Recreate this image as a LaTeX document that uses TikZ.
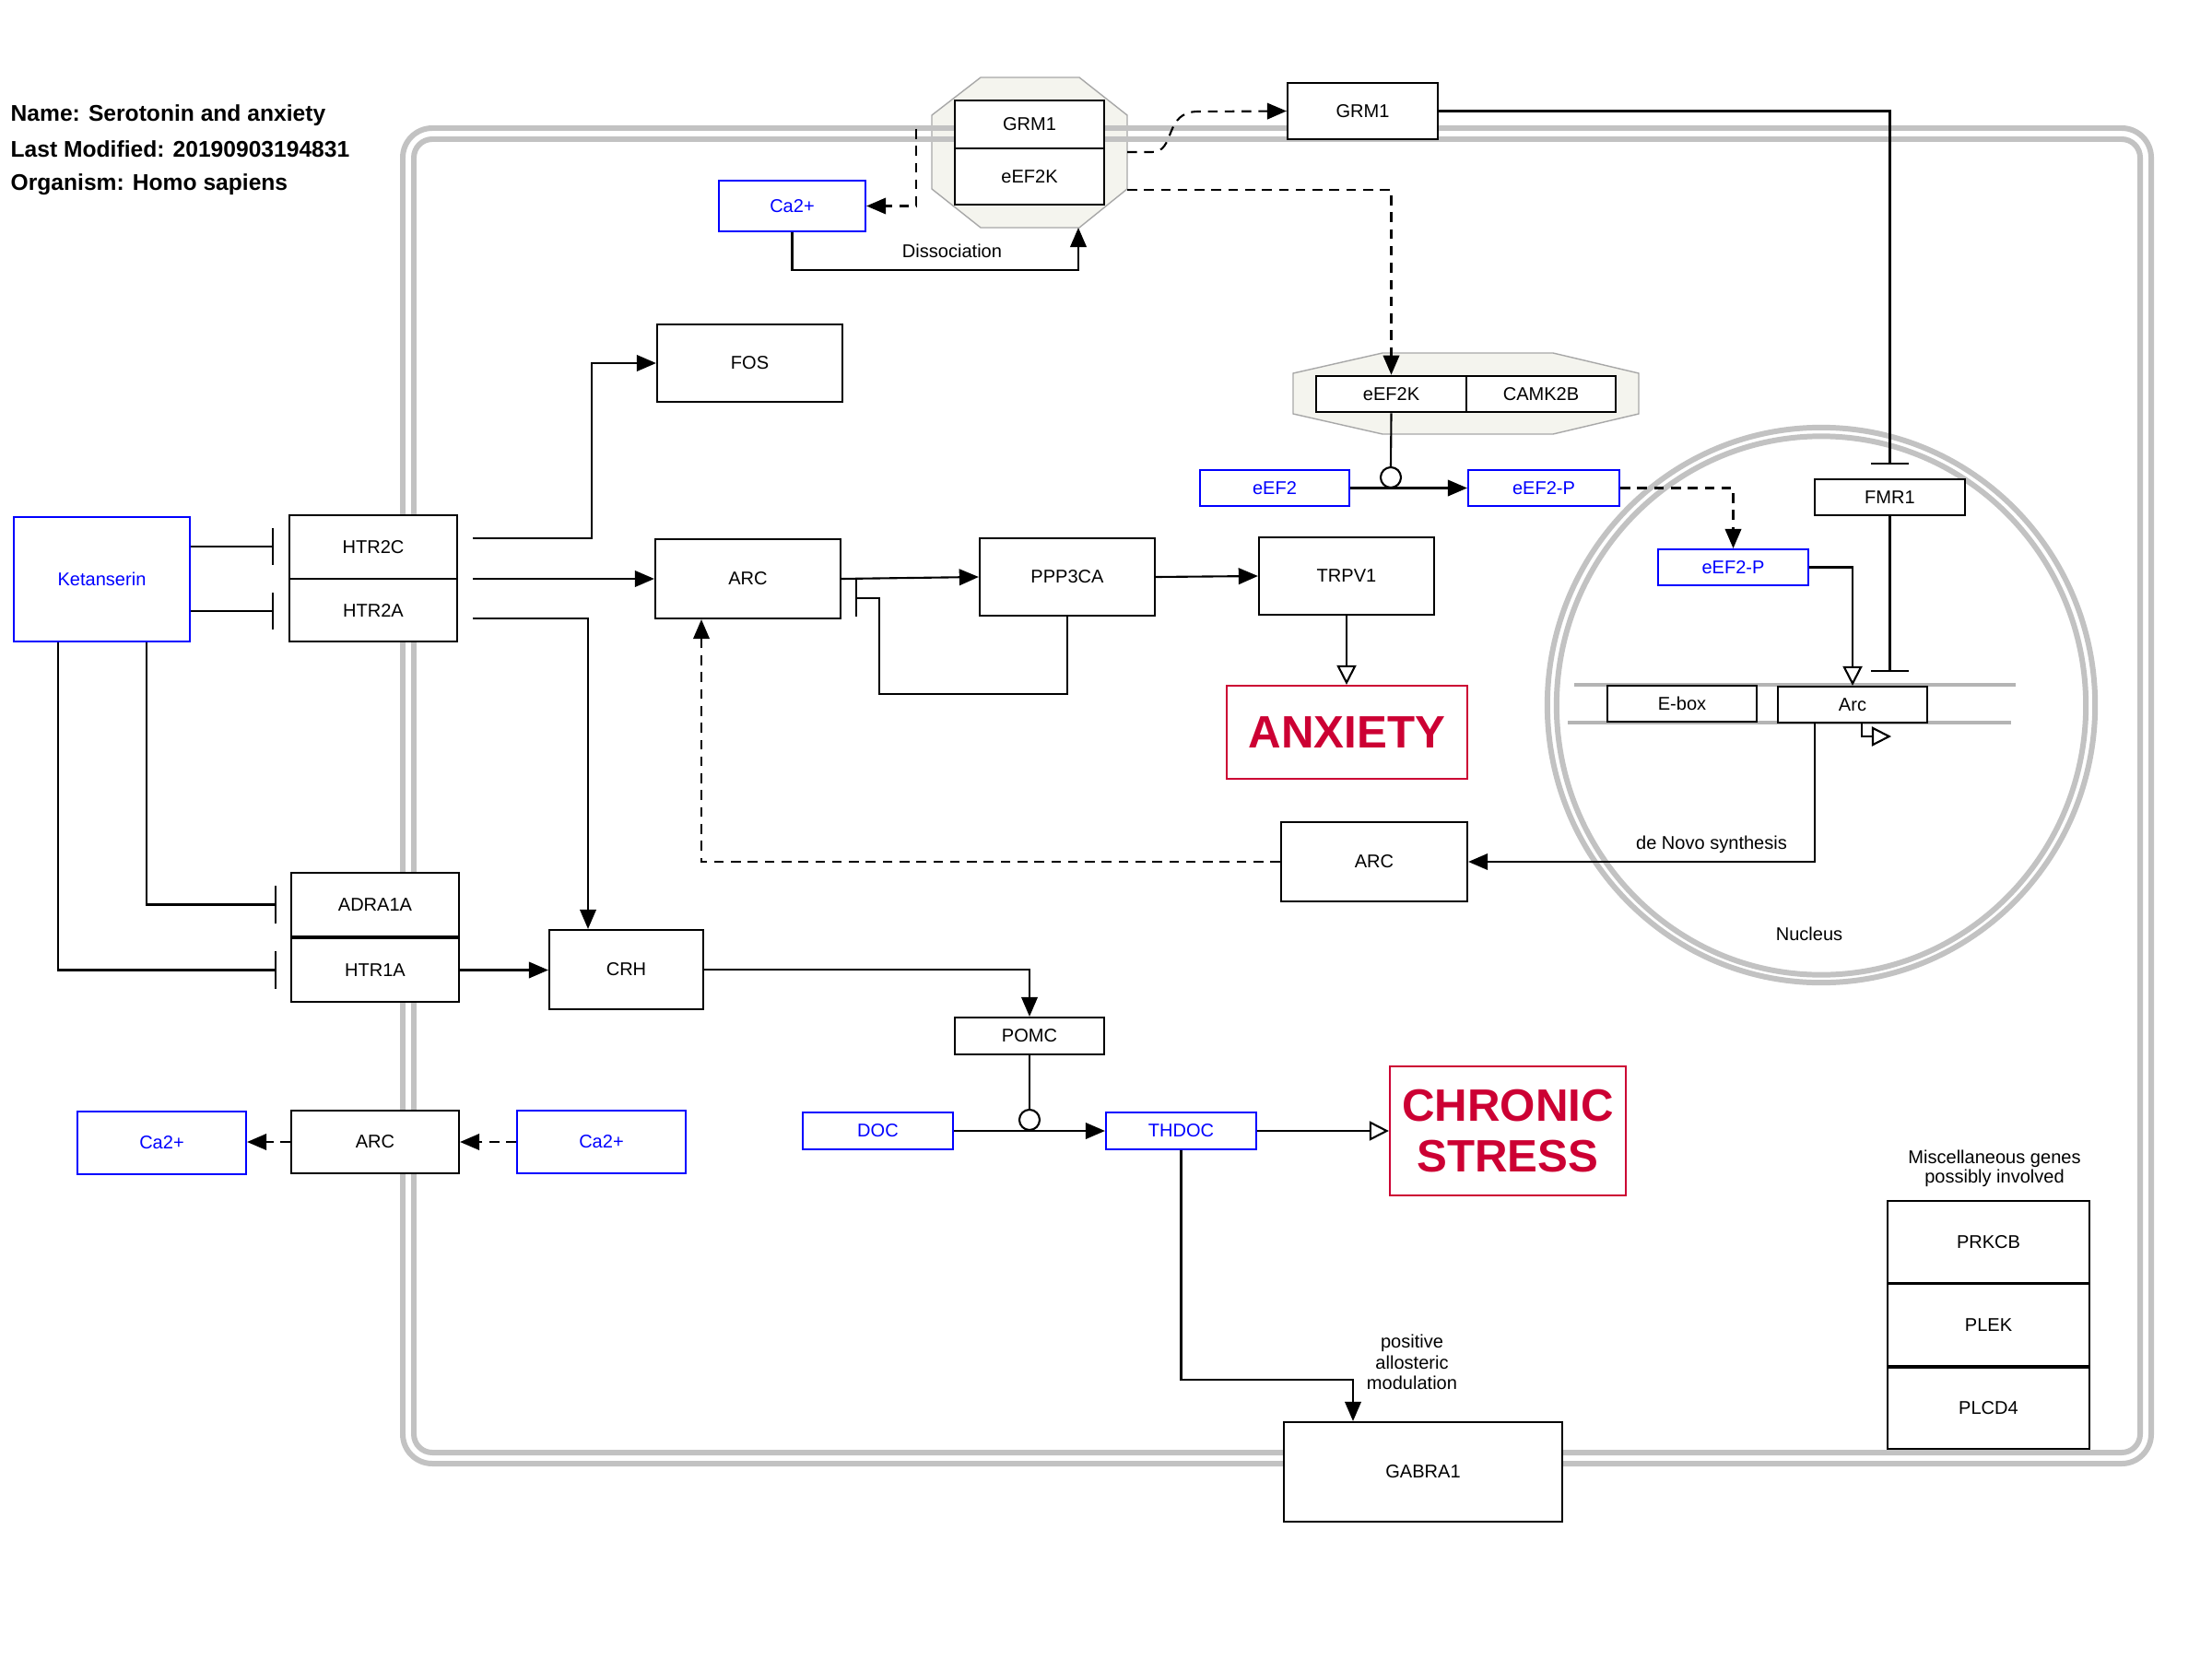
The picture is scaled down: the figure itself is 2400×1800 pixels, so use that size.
\documentclass[tikz,border=0pt]{standalone}
\usepackage{fontspec}
\setmainfont{Liberation Sans}
\usetikzlibrary{arrows.meta,calc}
\definecolor{memgray}{HTML}{C2C2C2}
\definecolor{dnagray}{HTML}{B4B4B4}
\definecolor{cplxfill}{HTML}{F4F4EE}
\definecolor{cplxline}{HTML}{A8A8A8}
\definecolor{metblue}{HTML}{0000FF}
\definecolor{phenored}{HTML}{CC0033}

% box from its corner coordinates: style, name, x1, y1, x2, y2, text
\newcommand{\placebox}[7]{%
  \pgfmathsetmacro{\pbcx}{(#3+#5)/2}%
  \pgfmathsetmacro{\pbcy}{(#4+#6)/2}%
  \pgfmathsetmacro{\pbw}{(#5-#3)/100}%
  \pgfmathsetmacro{\pbh}{(#6-#4)/100}%
  \node[#1, minimum width=\pbw cm, minimum height=\pbh cm] (#2) at (\pbcx,\pbcy) {#7};}

\begin{document}
\begin{tikzpicture}[x=0.01cm,y=-0.01cm,
  lbl/.style={font=\fontsize{5.7}{6.4}\selectfont},
  gene/.style={draw=black,line width=0.6pt,fill=white,inner sep=0pt,lbl},
  metab/.style={draw=metblue,text=metblue,line width=0.6pt,fill=white,inner sep=0pt,lbl},
  pheno/.style={draw=phenored,text=phenored,line width=0.6pt,fill=white,inner sep=0pt,
    font=\fontsize{14}{15.6}\selectfont\bfseries,align=center},
  cbox/.style={gene,line width=0.75pt},
  conn/.style={line width=0.6pt},
  arr/.style={conn,-{Triangle[length=6pt,width=5pt]}},
  oarr/.style={conn,-{Triangle[open,length=6pt,width=6pt]}},
  inh/.style={conn,-{Bar[width=11.5pt,line width=0.6pt]}},
  dsh/.style={dash pattern=on 3pt off 2.2pt},
  membrane/.style={draw=memgray,line width=1.7pt},
  catal/.style={circle,draw=black,line width=0.6pt,fill=white,inner sep=0pt,minimum size=0.22cm},
  titletext/.style={font=\fontsize{7}{8}\selectfont\bfseries,anchor=base west,inner sep=0pt},
  ]
\useasboundingbox (0,0) rectangle (2400,1800);
\fill[white] (0,0) rectangle (2400,1800);

% pathway information
\node[titletext] (tname) at (11,132) {Name: Serotonin and anxiety};
\node[titletext] (tmod) at (11,170) {Last Modified: 20190903194831};
\node[titletext] (torg) at (11,207) {Organism: Homo sapiens};

% complexes
\draw[fill=cplxfill,draw=cplxline,line width=0.4pt]
  (1064,84) -- (1171,84) -- (1223,125) -- (1223,205) -- (1171,247) -- (1064,247) -- (1011,205) -- (1011,125) -- cycle;
\draw[fill=cplxfill,draw=cplxline,line width=0.4pt]
  (1500,383) -- (1685,383) -- (1778,405) -- (1778,449) -- (1685,471) -- (1500,471) -- (1403,449) -- (1403,405) -- cycle;

% cell membrane and nucleus
\draw[membrane, rounded corners=0.32cm] (437,139) rectangle (2334,1588);
\draw[membrane, rounded corners=0.2cm] (449,151) rectangle (2322,1576);
\draw[membrane] (1976,765) ellipse [x radius=2.97cm, y radius=3.01cm];
\draw[membrane] (1976,765.5) ellipse [x radius=2.87cm, y radius=2.92cm];
\node[lbl] (nuclbl) at (1963,1013) {Nucleus};

% gene strand
\draw[dnagray,line width=1.1pt] (1708,743) -- (2187,743);
\draw[dnagray,line width=1.1pt] (1701,784) -- (2182,784);

% receptors and ligands
\placebox{metab}{Ket}{15}{561}{206}{696}{Ketanserin}
\placebox{gene}{HTR2C}{314}{559}{496}{628}{HTR2C}
\placebox{gene}{HTR2A}{314}{628}{496}{696}{HTR2A}
\placebox{gene}{FOS}{713}{352}{914}{436}{FOS}
\placebox{gene}{ARC}{711}{585}{912}{671}{ARC}
\placebox{gene}{PPP}{1063}{584}{1253}{668}{PPP3CA}
\placebox{gene}{TRPV}{1366}{583}{1556}{667}{TRPV1}
\placebox{pheno}{ANX}{1331}{744}{1592}{845}{ANXIETY}
\placebox{gene}{ADRA}{316}{947}{498}{1016}{ADRA1A}
\placebox{gene}{HTRA}{316}{1018}{498}{1087}{HTR1A}
\placebox{gene}{CRH}{596}{1009}{763}{1095}{CRH}
\placebox{gene}{POMC}{1036}{1104}{1198}{1144}{POMC}
\placebox{metab}{DOC}{871}{1207}{1034}{1247}{DOC}
\placebox{metab}{THDOC}{1200}{1207}{1363}{1247}{THDOC}
\placebox{pheno}{CS}{1508}{1157}{1764}{1297}{CHRONIC\\STRESS}
\placebox{gene}{GABRA}{1393}{1543}{1695}{1651}{GABRA1}
\placebox{gene}{ARCll}{316}{1205}{498}{1273}{ARC}
\placebox{metab}{CaL}{84}{1206}{267}{1274}{Ca2+}
\placebox{metab}{CaR}{561}{1205}{744}{1273}{Ca2+}
\placebox{gene}{ARClow}{1390}{892}{1592}{978}{ARC}

% miscellaneous genes
\node[lbl,align=center,font=\fontsize{5.7}{6}\selectfont] (misclbl) at (2164,1268) {Miscellaneous genes\\possibly involved};
\placebox{gene}{PRKCB}{2048}{1303}{2267}{1392}{PRKCB}
\placebox{gene}{PLEK}{2048}{1393}{2267}{1482}{PLEK}
\placebox{gene}{PLCD}{2048}{1484}{2267}{1572}{PLCD4}

% upper complexes and eEF2 branch
\placebox{metab}{CaTop}{780}{196}{939}{251}{Ca2+}
\placebox{cbox}{GRMc}{1036}{109}{1198}{161}{GRM1}
\placebox{cbox}{EEFc}{1036}{161}{1198}{222}{eEF2K}
\placebox{gene}{GRM}{1397}{90}{1560}{151}{GRM1}
\placebox{cbox}{EEFKb}{1428}{408}{1591}{447}{eEF2K}
\placebox{cbox}{CAMK}{1591}{408}{1753}{447}{CAMK2B}
\placebox{metab}{EEF2}{1302}{510}{1464}{549}{eEF2}
\placebox{metab}{EEF2P}{1593}{510}{1757}{549}{eEF2-P}
\placebox{metab}{EEF2Pn}{1799}{596}{1962}{635}{eEF2-P}
\placebox{gene}{FMR}{1969}{520}{2132}{559}{FMR1}
\placebox{gene}{Ebox}{1744}{744}{1906}{783}{E-box}
\placebox{gene}{ArcG}{1929}{745}{2091}{784}{Arc}

% anchor points on the complex outline and free line ends
\coordinate (cxA) at (1223,206);
\coordinate (cxB) at (1223,165);
\coordinate (cxC) at (1170,247);
\coordinate (cxM) at (994,140);
\coordinate (g1) at (513,584);
\coordinate (g2) at (513,628);
\coordinate (g3) at (513,671);
\coordinate (tss) at (2052,799);

\node[catal] (cat1) at (1509,518) {};
\node[catal] (cat2) at (1117,1215) {};

% Ketanserin inhibitions
\draw[inh,shorten >=0.16cm] (Ket.east |- 0,593) -- (HTR2C.west |- 0,593);
\draw[inh,shorten >=0.16cm] (Ket.east |- 0,663) -- (HTR2A.west |- 0,663);
\draw[inh,shorten >=0.15cm] (Ket.south -| 159,0) |- (ADRA.west);
\draw[inh,shorten >=0.15cm] (Ket.south -| 63,0) |- (HTRA.west);

% receptor signalling
\draw[arr] (g1) -| (642,394) -- (FOS.west);
\draw[arr] (g2) -- (ARC.west |- g2);
\draw[arr] (g3) -| (CRH.north -| 638,0);
\draw[arr] (HTRA.east) -- (CRH.west |- HTRA.east);
\draw[arr] (CRH.east) -| (POMC.north);
\draw[conn] (POMC.south) -- (cat2.north);
\draw[arr] (DOC.east) -- (THDOC.west);
\draw[oarr] (THDOC.east) -- (CS.west |- THDOC.east);
\draw[arr] (THDOC.south) |- (1468,1497) -- (GABRA.north -| 1468,0);
\node[lbl,align=center] (pamlbl) at (1532,1478) {positive\\allosteric\\modulation};

% ARC loop
\draw[arr] (ARC.east) -- (PPP.west);
\draw[arr] (PPP.east) -- (TRPV.west);
\draw[inh] (PPP.south) |- (954,753) |- (928,649);
\draw[oarr] (TRPV.south) -- (ANX.north -| TRPV.south);
\draw[arr,dsh] (ARClow.west) -| (ARC.south -| 761,0);

% nucleus
\draw[arr] (ArcG.south -| 1969,0) |- (ARClow.east);
\node[lbl] (denovo) at (1857,916) {de Novo synthesis};
\draw[oarr] (ArcG.south -| 2020,0) |- (tss);
\draw[oarr] (EEF2Pn.east) -| (ArcG.north);
\draw[inh,shorten >=0.15cm] (FMR.south) -- (ArcG.north -| FMR.south);
\draw[inh,shorten >=0.15cm] (GRM.east) -| (FMR.north);
\draw[arr,dsh] (EEF2P.east) -| (EEF2Pn.north);

% eEF2 phosphorylation
\draw[arr] (EEF2.east) -- (EEF2P.west);
\draw[conn] (EEFKb.south) -- (cat1.north);
\draw[arr,dsh] (cxA) -| (EEFKb.north);
\draw[arr,dsh] (cxB) -- (1250,165) .. controls (1276,165) and (1262,121) .. (1300,121) -- (GRM.west);
\draw[arr,dsh] (cxM) |- (CaTop.east);
\draw[arr] (CaTop.south) |- (1170,293) -- (cxC);
\node[lbl] (dissoc) at (1033,272) {Dissociation};

% calcium around ARC
\draw[arr,dsh] (ARCll.west) -- (CaL.east |- ARCll.west);
\draw[arr,dsh] (CaR.west) -- (ARCll.east |- CaR.west);
\end{tikzpicture}
\end{document}
